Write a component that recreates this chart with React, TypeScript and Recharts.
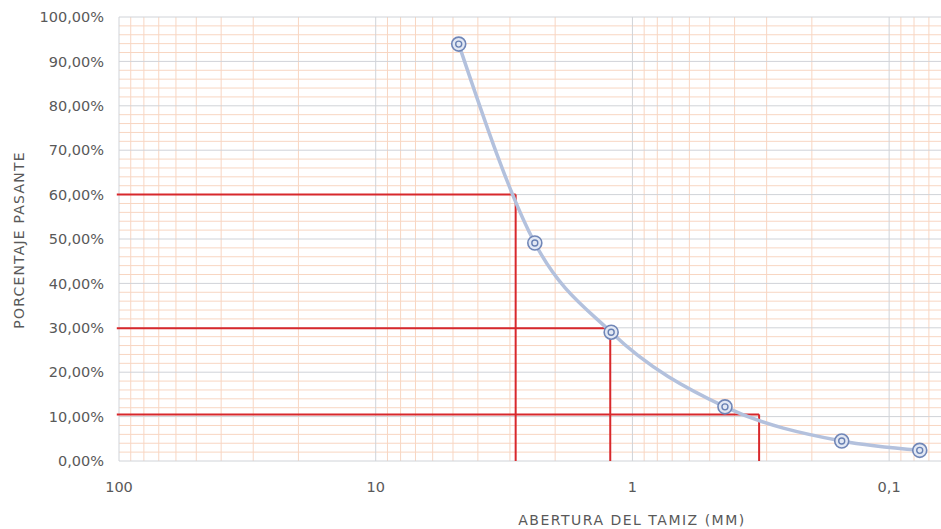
import {
  Label,
  Line,
  LineChart,
  ReferenceLine,
  XAxis,
  YAxis,
} from "recharts";

// granulometric curve: sieve opening (mm) vs % passing
const sieveSizes = [4.75, 2.4, 1.21, 0.436, 0.153, 0.076];
const percentPassing = [93.9, 49.1, 29.0, 12.2, 4.5, 2.4];

// D60 / D30 / D10 guide lines
const guideSizes = [2.85, 1.22, 0.321];
const guidePercents = [60, 29.9, 10.5];

const xTicks = [100, 10, 1, 0.1];
const yTicks = [0, 10, 20, 30, 40, 50, 60, 70, 80, 90, 100];

const X_MIN = 0.0628;
const X_MAX = 100;

const data = sieveSizes.map((size, i) => ({ size, pass: percentPassing[i] }));

// log minor grid (2..9 within each decade), and every 2% on y
const minorX: number[] = [];
xTicks.forEach((d) => {
  for (let k = 2; k <= 9; k++) {
    const v = (d / 10) * k;
    if (v >= X_MIN && v < X_MAX) minorX.push(v);
  }
});
const minorY: number[] = [];
for (let v = 2; v < 100; v += 2) if (v % 10 !== 0) minorY.push(v);

const MINOR = "#f8d6c2";
const MAJOR = "#d0d3d8";
const RED = "#d8282c";
const TXT = "#595959";
const FONT = "'DejaVu Sans', sans-serif";

const fmtX = (v: number) => String(v).replace(".", ",");
const fmtY = (v: number) => v.toFixed(2).replace(".", ",") + "%";

function SieveDot(props: any) {
  const { cx, cy, index } = props;
  if (cx == null || cy == null) return null;
  return (
    <g key={`dot-${index}`}>
      <circle cx={cx} cy={cy} r={7} fill="#e2e8f4" stroke="#7086b7" strokeWidth={1.6} />
      <circle cx={cx} cy={cy} r={3} fill="#e2e8f4" stroke="#6880b3" strokeWidth={1.4} />
    </g>
  );
}

export default function App() {
  return (
    <div
      style={{
        position: "absolute",
        left: 0,
        top: 0,
        width: 941,
        height: 529,
        overflow: "hidden",
        background: "#fff",
      }}
    >
      <LineChart
        width={941}
        height={529}
        data={data}
        margin={{ top: 17, right: 0, bottom: 0, left: 0 }}
      >
        <XAxis
          dataKey="size"
          type="number"
          scale="log"
          domain={[X_MIN, X_MAX]}
          allowDataOverflow
          reversed
          ticks={xTicks}
          tickFormatter={fmtX}
          axisLine={false}
          tickLine={false}
          tickMargin={15}
          height={68}
          tick={{ fill: TXT, fontSize: 14.5, fontFamily: FONT }}
        >
          <Label
            content={() => (
              <text
                x={632}
                y={525}
                textAnchor="middle"
                fill={TXT}
                fontSize={14}
                fontFamily={FONT}
                letterSpacing={1.5}
              >
                ABERTURA DEL TAMIZ (MM)
              </text>
            )}
          />
        </XAxis>
        <YAxis
          type="number"
          domain={[0, 100]}
          ticks={yTicks}
          tickFormatter={fmtY}
          axisLine={false}
          tickLine={false}
          tickMargin={9}
          width={119}
          tick={{ fill: TXT, fontSize: 14.5, fontFamily: FONT }}
        >
          <Label
            content={() => (
              <text
                x={19}
                y={240}
                transform="rotate(-90 19 240)"
                textAnchor="middle"
                dominantBaseline="central"
                fill={TXT}
                fontSize={14}
                fontFamily={FONT}
                letterSpacing={1.2}
              >
                PORCENTAJE PASANTE
              </text>
            )}
          />
        </YAxis>

        {minorY.map((v) => (
          <ReferenceLine key={`my-${v}`} y={v} stroke={MINOR} strokeWidth={1} />
        ))}
        {minorX.map((v) => (
          <ReferenceLine key={`mx-${v}`} x={v} stroke={MINOR} strokeWidth={1} />
        ))}
        {yTicks.map((v) => (
          <ReferenceLine key={`gy-${v}`} y={v} stroke={MAJOR} strokeWidth={1} />
        ))}
        {xTicks.map((v) => (
          <ReferenceLine key={`gx-${v}`} x={v} stroke={MAJOR} strokeWidth={1} />
        ))}

        {guideSizes.map((s, i) => (
          <ReferenceLine
            key={`gh-${i}`}
            segment={[
              { x: 102, y: guidePercents[i] },
              { x: s, y: guidePercents[i] },
            ]}
            stroke={RED}
            strokeWidth={2}
            ifOverflow="visible"
          />
        ))}
        {guideSizes.map((s, i) => (
          <ReferenceLine
            key={`gv-${i}`}
            segment={[
              { x: s, y: guidePercents[i] },
              { x: s, y: 0 },
            ]}
            stroke={RED}
            strokeWidth={2}
            ifOverflow="visible"
          />
        ))}

        <Line
          type="monotone"
          dataKey="pass"
          stroke="#b3c1dd"
          strokeWidth={3.5}
          dot={<SieveDot />}
          activeDot={false}
          isAnimationActive={false}
        />
      </LineChart>
    </div>
  );
}
